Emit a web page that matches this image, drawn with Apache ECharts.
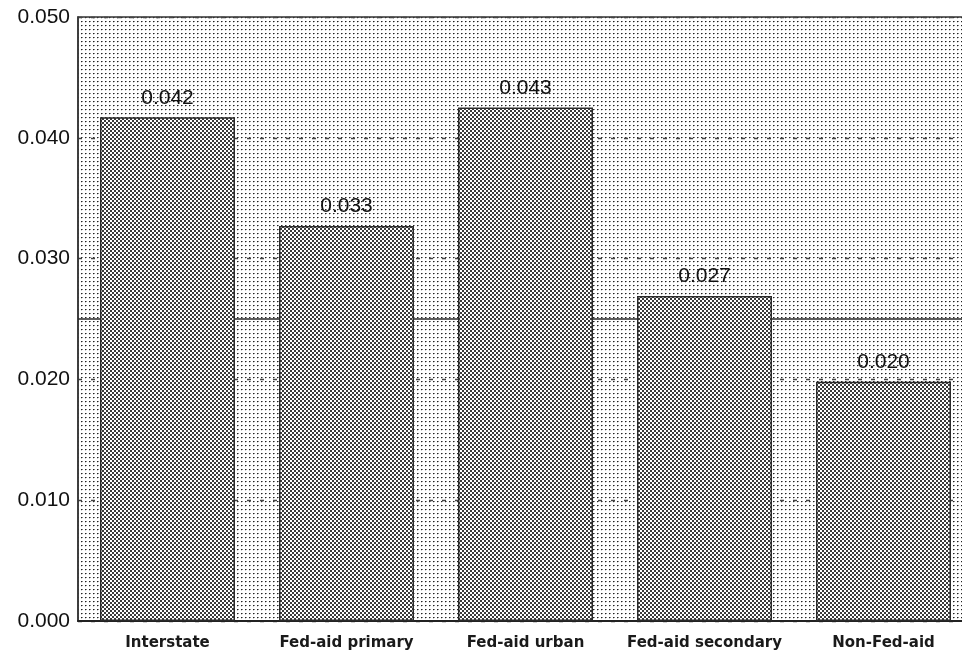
<!DOCTYPE html>
<html>
<head>
<meta charset="utf-8">
<script src="https://cdn.jsdelivr.net/npm/echarts@6/dist/echarts.min.js"></script>
<style>
  html, body { margin: 0; padding: 0; background: #fff; overflow: hidden; }
  #chart { width: 973px; height: 660px; }
</style>
</head>
<body>
<div id="chart"></div>
<script>
const categories = ['Interstate', 'Fed-aid primary', 'Fed-aid urban', 'Fed-aid secondary', 'Non-Fed-aid'];
const values = [0.0417, 0.0327, 0.0425, 0.0269, 0.0198];
const valueLabels = ['0.042', '0.033', '0.043', '0.027', '0.020'];
const averageValue = 0.025;
const yTicks = [0, 0.01, 0.02, 0.03, 0.04, 0.05];
const yTickLabels = ['0.000', '0.010', '0.020', '0.030', '0.040', '0.050'];

function makeTile(size, draw) {
  const c = document.createElement('canvas');
  c.width = size; c.height = size;
  const ctx = c.getContext('2d');
  draw(ctx);
  return c;
}
const bgTile = makeTile(4, ctx => {
  ctx.fillStyle = '#ffffff'; ctx.fillRect(0, 0, 4, 4);
  ctx.fillStyle = '#222222'; ctx.fillRect(1, 1, 1, 1);
  ctx.fillStyle = '#8a8a8a'; ctx.fillRect(2, 1, 1, 1);
  ctx.fillStyle = '#cfcfcf'; ctx.fillRect(1, 2, 1, 1);
});
const barTile = makeTile(4, ctx => {
  ctx.fillStyle = '#ffffff'; ctx.fillRect(0, 0, 4, 4);
  ctx.fillStyle = '#3a3a3a';
  ctx.fillRect(0, 0, 2, 2);
  ctx.fillRect(2, 2, 2, 2);
});

const chart = echarts.init(document.getElementById('chart'), null, { renderer: 'canvas' });
chart.setOption({
  animation: false,
  backgroundColor: '#ffffff',
  grid: {
    left: 78, right: 0, top: 17, bottom: 39,
    show: true,
    backgroundColor: { image: bgTile, repeat: 'repeat' },
    borderColor: '#333',
    borderWidth: 1.5
  },
  xAxis: {
    type: 'category',
    data: categories,
    axisLine: { show: true, lineStyle: { color: '#222', width: 2 } },
    axisTick: { show: false },
    axisLabel: {
      interval: 0,
      color: '#1a1a1a',
      fontFamily: 'DejaVu Sans, Verdana, sans-serif',
      fontWeight: 'bold',
      fontSize: 15,
      margin: 15
    }
  },
  yAxis: {
    type: 'value',
    min: 0, max: 0.05, interval: 0.01,
    axisLine: { show: true, lineStyle: { color: '#333', width: 1.5 } },
    axisTick: { show: false },
    axisLabel: {
      color: '#111',
      fontFamily: 'Liberation Sans, Arial, sans-serif',
      fontSize: 21,
      margin: 8,
      formatter: function (v) {
        const i = yTicks.findIndex(t => Math.abs(t - v) < 1e-9);
        return i >= 0 ? yTickLabels[i] : '';
      }
    },
    splitLine: {
      show: true,
      lineStyle: { color: '#444', width: 1.3, type: [4, 9] }
    }
  },
  series: [{
    type: 'bar',
    data: values,
    barWidth: 135,
    z: 2,
    itemStyle: {
      color: { image: barTile, repeat: 'repeat' },
      borderColor: '#2a2a2a',
      borderWidth: 1.5
    },
    label: {
      show: true,
      position: 'top',
      distance: 9,
      color: '#111',
      fontFamily: 'Liberation Sans, Arial, sans-serif',
      fontSize: 21,
      formatter: function (p) { return valueLabels[p.dataIndex]; }
    },
    markLine: {
      silent: true,
      z: 1,
      precision: 5,
      symbol: 'none',
      label: { show: false },
      lineStyle: { color: '#2a2a2a', width: 1.5, type: 'solid' },
      data: [{ yAxis: averageValue }]
    }
  }]
});
</script>
</body>
</html>
